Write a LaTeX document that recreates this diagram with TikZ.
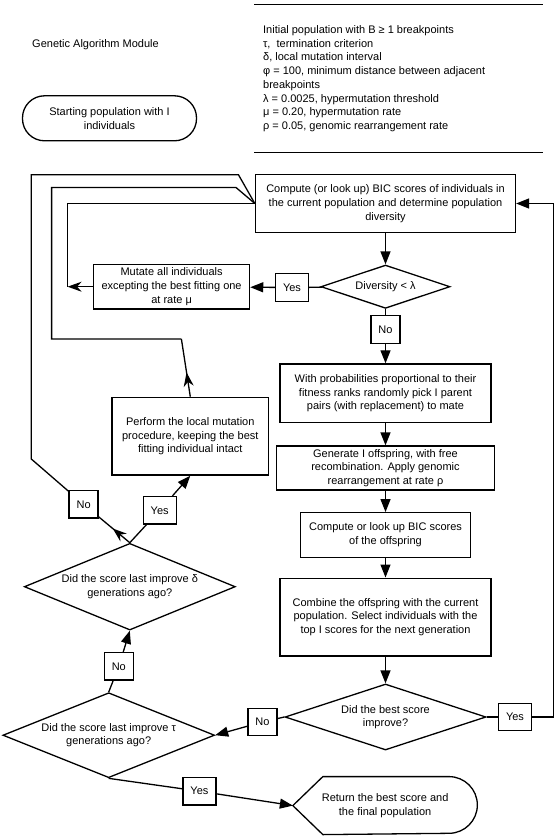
\documentclass[tikz,border=0pt]{standalone}
\usepackage{fontspec}
\setmainfont{Liberation Sans}
\usepackage{tikz}
\usetikzlibrary{arrows.meta}
\usetikzlibrary{decorations.markings}
\usetikzlibrary{shapes.geometric}
\pgfdeclarelayer{edgelayer}
\pgfdeclarelayer{nodelayer}
\pgfsetlayers{edgelayer,nodelayer,main}
\tikzstyle{proc_box}=[rectangle,fill=white,draw=black,align=center,inner sep=2pt]
\tikzstyle{decision}=[diamond,fill=white,draw=black,align=center,inner sep=0pt]
\tikzstyle{label_box}=[rectangle,fill=white,draw=black,inner xsep=7.5pt,inner ysep=0pt,minimum height=27.5pt]
\tikzstyle{terminal}=[rectangle,rounded corners=22pt,fill=white,draw=black,align=center]
\tikzstyle{transition}=[-{Triangle[length=13pt,width=10pt]},draw=black]
\tikzstyle{back_transition}=[-{Stealth[length=14pt,width=10pt,inset=4.5pt]},draw=black]
\tikzset{mid_transition/.style={postaction={decorate},decoration={markings,mark=at position #1 with {\arrow{Stealth[length=14pt,width=10pt,inset=4.5pt]}}}}}

\begin{document}
\begin{tikzpicture}[x=1pt,y=-1pt,font=\fontsize{11}{13.7}\selectfont]
	\useasboundingbox (0,0) rectangle (555,837);
	\begin{pgfonlayer}{nodelayer}
	\begin{scope}[line width=1.3pt]
		\node (0) at (95.5, 44.3) {Genetic Algorithm Module};
		\node [anchor=west, align=left, inner sep=0pt] (1) at (262.5, 78.7) {Initial population with B ≥ 1 breakpoints\\τ,~ termination criterion\\δ, local mutation interval\\φ = 100, minimum distance between adjacent\\breakpoints\\λ = 0.0025, hypermutation threshold\\μ = 0.20, hypermutation rate\\ρ = 0.05, genomic rearrangement rate};
		\node [style=terminal, minimum width=174pt, minimum height=45pt] (2) at (109.5, 118.3) {Starting population with I\\individuals};
		\node [style={proc_box}, minimum width=260pt, minimum height=58.4pt] (3) at (385.5, 203.5) {Compute (or look up) BIC scores of individuals in\\the current population and determine population\\diversity};
		\node [style=decision, aspect=2.98, minimum width=129pt, minimum height=43.3pt] (4) at (385.5, 286.7) {Diversity < λ};
		\node [style={label_box}] (5) at (292, 287.5) {Yes};
		\node [style={proc_box}, minimum width=156pt, minimum height=44.7pt] (6) at (171.6, 286.7) {Mutate all individuals\\excepting the best fitting one\\at rate μ};
		\node [style={label_box}] (7) at (385.5, 329.5) {No};
		\node [style={proc_box}, minimum width=211pt, minimum height=58.7pt] (8) at (385.5, 393.3) {With probabilities proportional to their\\fitness ranks randomly pick I parent\\pairs (with replacement) to mate};
		\node [style={proc_box}, minimum width=218pt, minimum height=44pt] (9) at (385.5, 468) {Generate I offspring, with free\\recombination. Apply genomic\\rearrangement at rate ρ};
		\node [style={proc_box}, minimum width=170pt, minimum height=44.6pt] (10) at (385.5, 535) {Compute or look up BIC scores\\of the offspring};
		\node [style={proc_box}, minimum width=211pt, minimum height=77.7pt] (11) at (385.5, 617) {Combine the offspring with the current\\population. Select individuals with the\\top I scores for the next generation};
		\node [style=decision, aspect=3.05, minimum width=201pt, minimum height=66pt] (12) at (385.5, 717) {Did the best score\\improve?};
		\node [style={label_box}] (13) at (515, 717) {Yes};
		\node [style={label_box}] (14) at (262.4, 722) {No};
		\node [style=decision, aspect=2.5, minimum width=211.7pt, minimum height=85pt] (15) at (108.7, 735.2) {Did the score last improve τ\\generations ago?};
		\node [style={label_box}] (16) at (199.4, 791.2) {Yes};
		\node [align=center, minimum width=183.2pt, minimum height=56.7pt, inner sep=0pt] (17) at (385.1, 805.6) {Return the best score and\\the final population};
		\draw (17.west) -- ([xshift=30pt]17.north west) -- ([xshift=-28.35pt]17.north east) arc[start angle=90, end angle=-90, radius=28.35pt] -- ([xshift=30pt]17.south west) -- cycle;
		\node [style=decision, aspect=2.43, minimum width=211pt, minimum height=86.7pt] (18) at (129.8, 586.7) {Did the score last improve δ\\generations ago?};
		\node [style={label_box}] (19) at (118.8, 666.3) {No};
		\node [style={label_box}] (20) at (159.7, 510.3) {Yes};
		\node [style={label_box}] (21) at (83.6, 504.3) {No};
		\node [style={proc_box}, minimum width=156.6pt, minimum height=77.7pt] (22) at (190.3, 436.2) {Perform the local mutation\\procedure, keeping the best\\fitting individual intact};
		\coordinate (t0) at (254.4, 4.3);
		\coordinate (t1) at (542.5, 4.3);
		\coordinate (b0) at (254.4, 152.3);
		\coordinate (b1) at (542.5, 152.3);
		\coordinate (i1) at (67.6, 286.7);
		\coordinate (i2) at (67.6, 203.5);
		\coordinate (m1) at (181.4, 339);
		\coordinate (m2) at (51.6, 339);
		\coordinate (m3) at (51.6, 187.5);
		\coordinate (m4) at (236, 187.5);
		\coordinate (o1) at (31.3, 459);
		\coordinate (o2) at (31.3, 174.7);
		\coordinate (o3) at (238.4, 174.7);
		\coordinate (r1) at (553.2, 717);
	\end{scope}
	\end{pgfonlayer}
	\begin{pgfonlayer}{edgelayer}
	\begin{scope}[line width=1.3pt]
		\draw (t0) -- (t1);
		\draw (b0) -- (b1);
		\draw [style=transition] (3) to (4);
		\draw (4) to (5);
		\draw [style=transition] (5) to (6);
		\draw [style={back_transition}] (6) to (i1);
		\draw (i1) -- (i2) -- (3.west);
		\draw (4) to (7);
		\draw [style=transition] (7) to (8);
		\draw [style=transition] (8) to (9);
		\draw [style=transition] (9) to (10);
		\draw [style=transition] (10) to (11);
		\draw [style=transition] (11) to (12);
		\draw (12.east) to (13);
		\draw [style=transition] (13) -- (r1) |- (3.east);
		\draw (12.west) to (14);
		\draw [style=transition] (14) to (15.east);
		\draw (15.south) to (16);
		\draw [style=transition] (16) to (17.west);
		\draw (15.north) to (19);
		\draw [style=transition] (19) to (18.south);
		\draw (18.north) to (20);
		\draw [style=transition] (20) to (22.south);
		\draw [mid_transition=0.55] (18.north) to (21);
		\draw (21) -- (o1) -- (o2) -- (o3) -- (3.west);
		\draw [mid_transition=0.42] (22.north) to (m1);
		\draw (m1) -- (m2) -- (m3) -- (m4) -- (3.west);
	\end{scope}
	\end{pgfonlayer}
\end{tikzpicture}
\end{document}
